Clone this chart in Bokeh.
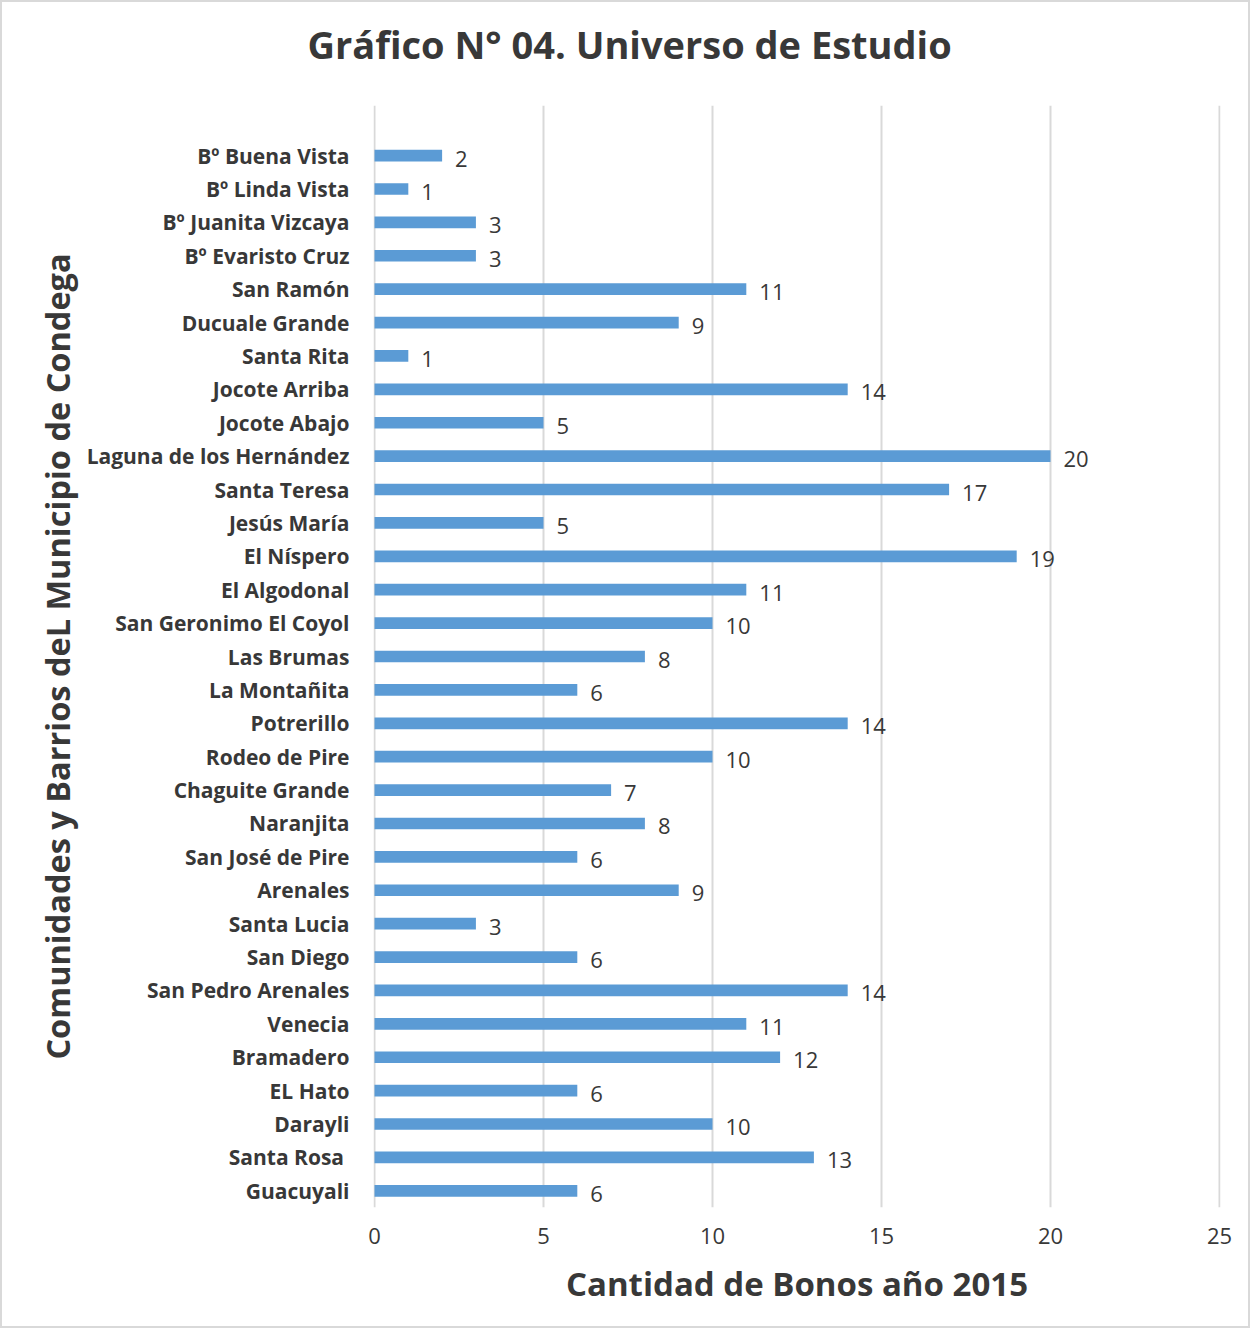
from bokeh.plotting import figure
from bokeh.models import ColumnDataSource, FactorRange, Range1d, FixedTicker, Title
from bokeh.core.properties import value
from bokeh.embed import file_html
from bokeh.resources import INLINE

categories = [
    "Bº Buena Vista", "Bº Linda Vista", "Bº Juanita Vizcaya", "Bº Evaristo Cruz",
    "San Ramón", "Ducuale Grande", "Santa Rita", "Jocote Arriba", "Jocote Abajo",
    "Laguna de los Hernández", "Santa Teresa", "Jesús María", "El Níspero",
    "El Algodonal", "San Geronimo El Coyol", "Las Brumas", "La Montañita",
    "Potrerillo", "Rodeo de Pire", "Chaguite Grande", "Naranjita", "San José de Pire",
    "Arenales", "Santa Lucia", "San Diego", "San Pedro Arenales", "Venecia",
    "Bramadero", "EL Hato", "Darayli", "Santa Rosa ", "Guacuyali",
]
values = [2, 1, 3, 3, 11, 9, 1, 14, 5, 20, 17, 5, 19, 11, 10, 8, 6, 14, 10, 7, 8, 6,
          9, 3, 6, 14, 11, 12, 6, 10, 13, 6]
x_ticks = [0, 5, 10, 15, 20, 25]

title_text = "Gráfico N° 04.  Universo de Estudio"
x_title = "Cantidad de Bonos año 2015"
y_title = "Comunidades y Barrios deL Municipio de Condega"

TXT = "#383838"
FONT = "Open Sans"

factors = list(reversed(categories)) + [" "]

src = ColumnDataSource(dict(cat=categories, val=values, lab=[str(v) for v in values]))

p = figure(
    width=1250, height=1328,
    y_range=FactorRange(*factors, range_padding=0),
    x_range=Range1d(-0.03, 25.03),
    output_backend="svg", toolbar_location=None,
    min_border_left=371, min_border_right=32, min_border_top=103, min_border_bottom=123,
)
p.outline_line_color = None
p.styles = {"border": "2px solid #d9d9d9", "box-sizing": "border-box"}

# invisible spacer between the frame and the title
p.add_layout(Title(text=" ", text_font_size="1px", standoff=33), "above")

p.title.text = title_text
p.title.align = "left"
p.title.offset = -66
p.title.standoff = 0
p.title.text_font = FONT
p.title.text_font_style = "bold"
p.title.text_font_size = "38px"
p.title.text_color = TXT

p.hbar(y="cat", right="val", left=0, height=0.35, source=src,
       fill_color="#5B9BD5", line_color=None)
p.text(x="val", y="cat", text="lab", source=src, x_offset=13, y_offset=3,
       text_baseline="middle", text_align="left", text_font=value(FONT),
       text_font_size="22px", text_color=TXT)

p.xaxis.ticker = FixedTicker(ticks=x_ticks)
p.xgrid.ticker = FixedTicker(ticks=x_ticks)
p.xgrid.grid_line_color = "#d9d9d9"
p.xgrid.grid_line_width = 2
p.ygrid.grid_line_color = None

for ax in (p.xaxis, p.yaxis):
    ax.axis_line_color = None
    ax.major_tick_line_color = None
    ax.minor_tick_line_color = None
    ax.major_tick_out = 0
    ax.major_tick_in = 0
    ax.minor_tick_out = 0
    ax.major_label_text_color = TXT
    ax.major_label_text_font = FONT
    ax.axis_label_text_color = TXT
    ax.axis_label_text_font = FONT
    ax.axis_label_text_font_style = "bold"

p.yaxis.major_label_text_font_size = "21px"
p.yaxis.major_label_text_font_style = "bold"
p.yaxis.major_label_standoff = 24
p.yaxis.axis_label = y_title
p.yaxis.axis_label_standoff = 4
p.yaxis.axis_label_text_font_size = "32.5px"

p.xaxis.major_label_text_font_size = "22px"
p.xaxis.major_label_standoff = 20
p.xaxis.axis_label = x_title
p.xaxis.axis_label_standoff = 14
p.xaxis.axis_label_text_font_size = "33px"

open("out.html", "w").write(file_html(p, INLINE))
